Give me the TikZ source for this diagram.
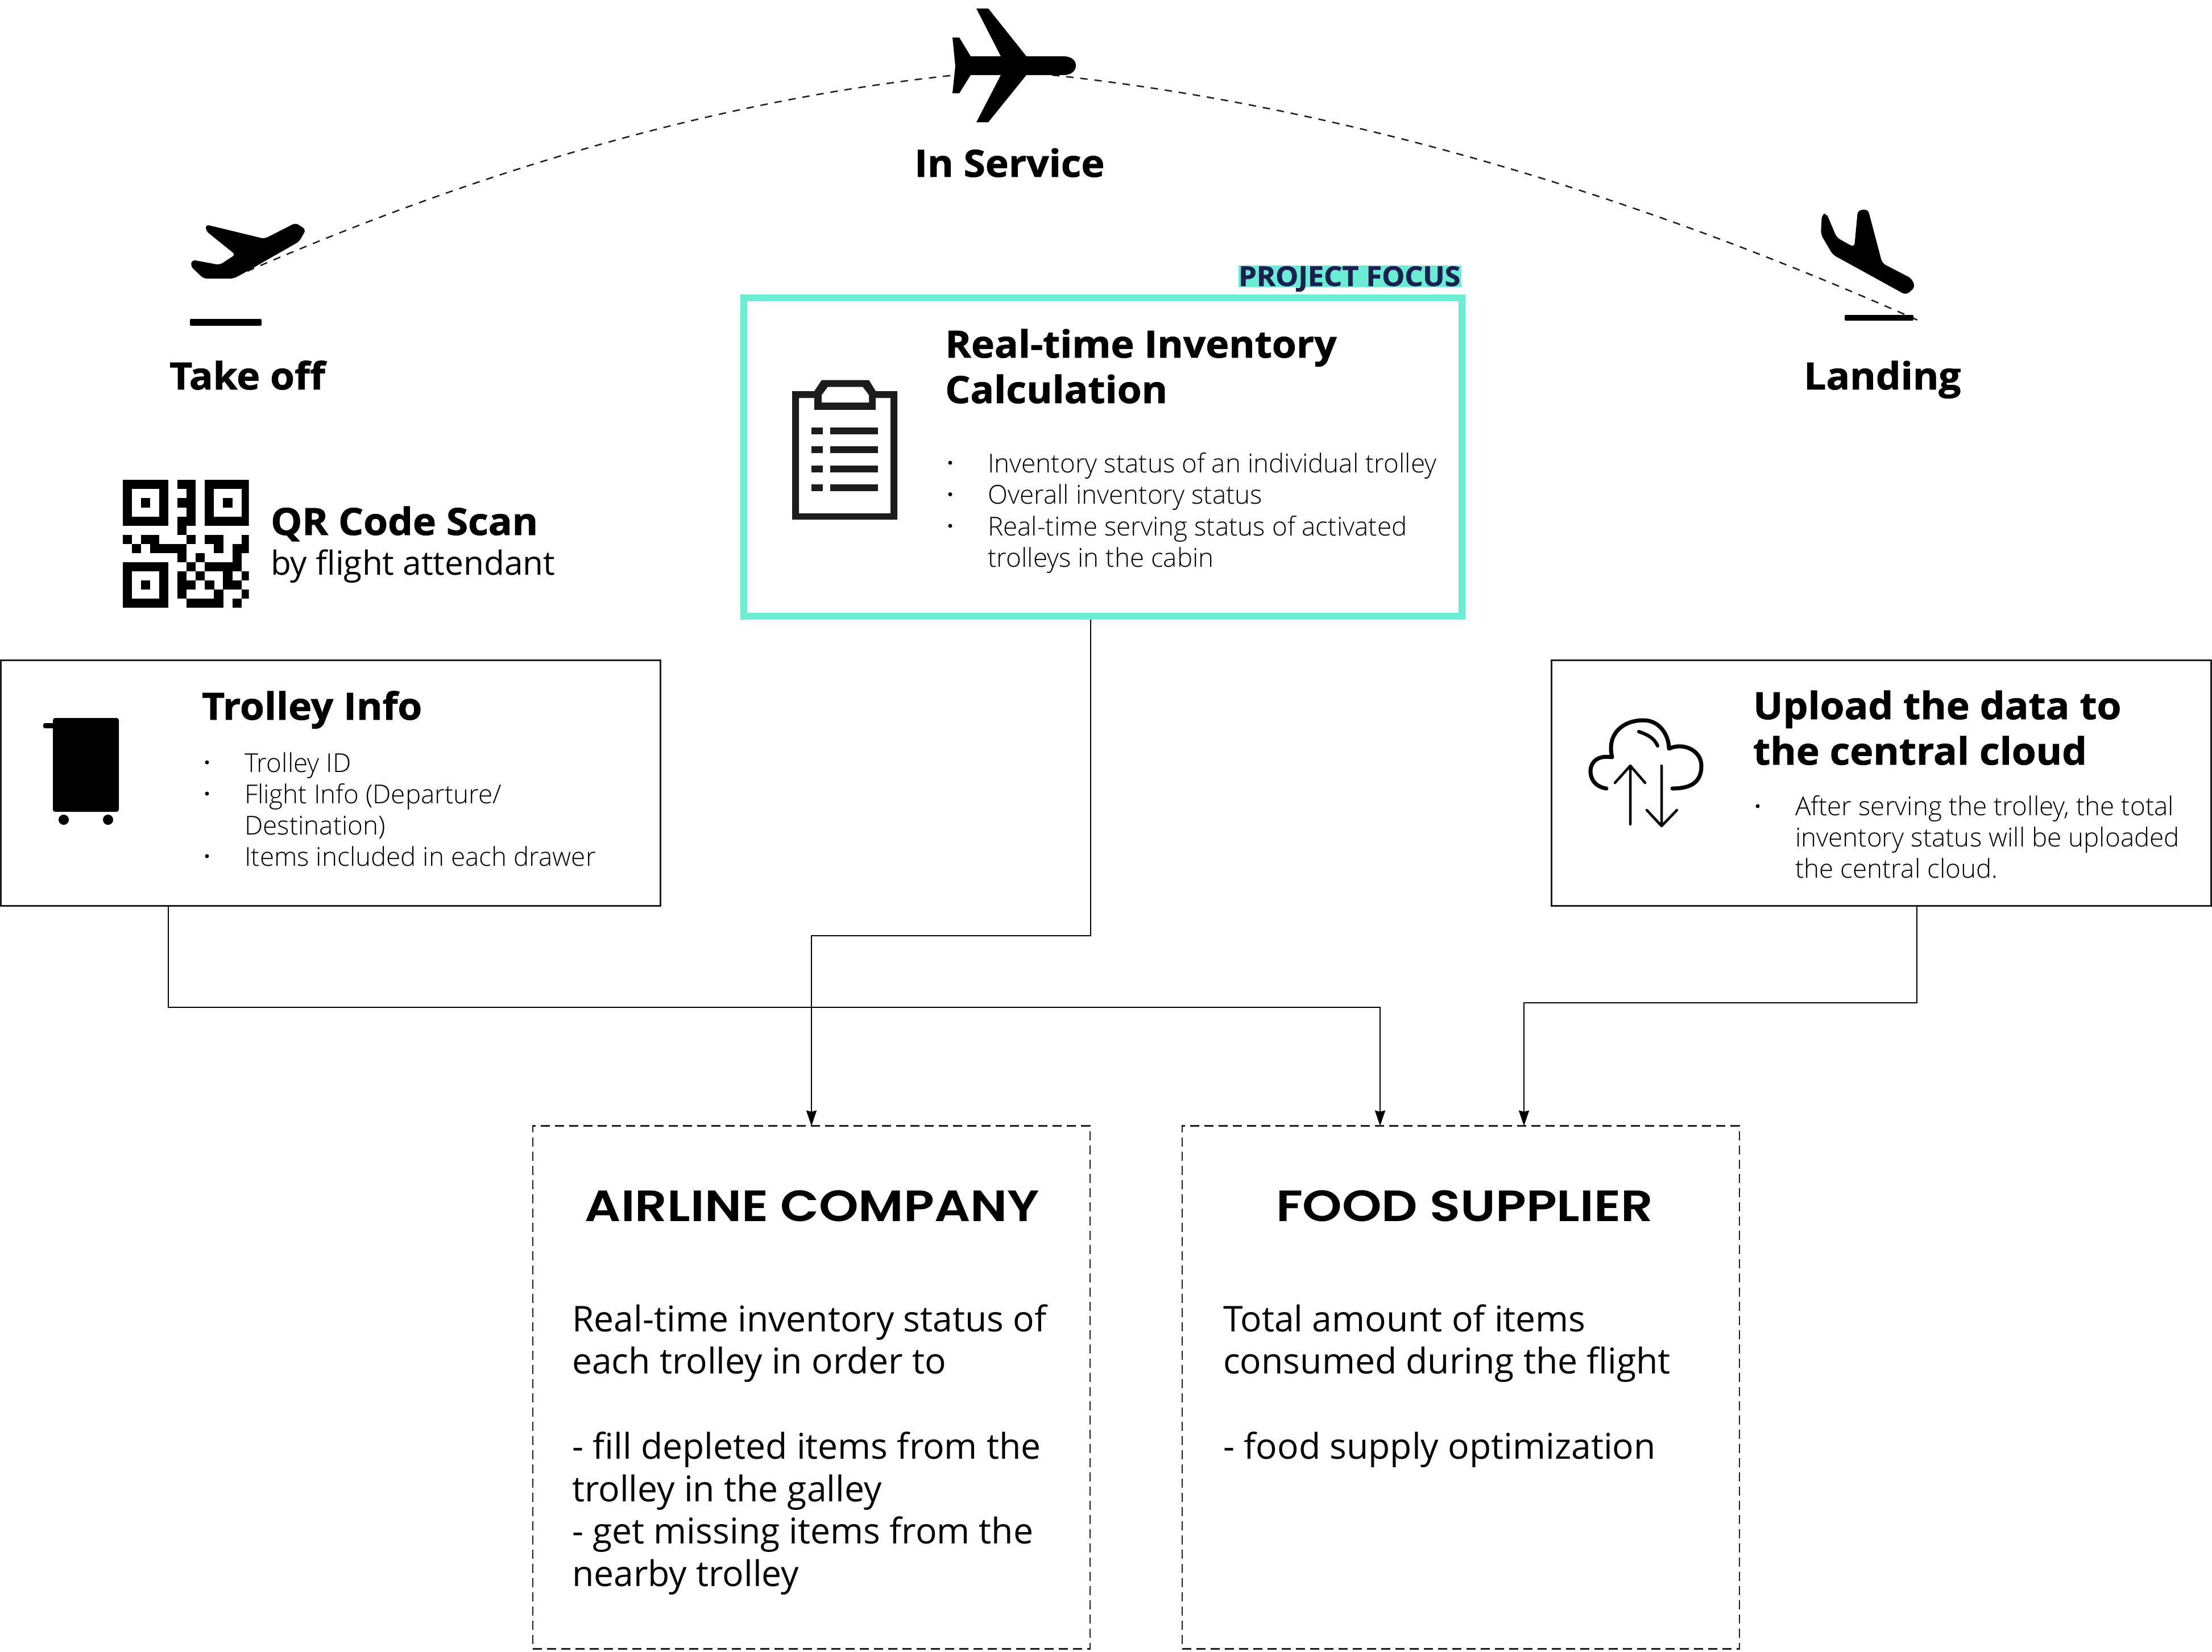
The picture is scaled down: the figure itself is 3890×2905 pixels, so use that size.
\documentclass[tikz,border=0pt]{standalone}
\usepackage{fontspec}
\usetikzlibrary{arrows.meta}
\setmainfont{Open Sans}
\newfontfamily\oslight{Open Sans Light}
\newfontfamily\osheavy{Open Sans}[FakeStretch=1.05,FakeBold=1.2]
\newfontfamily\popp{Poppins}[BoldFont={Poppins SemiBold},FakeStretch=1.15]
\definecolor{tealbar}{HTML}{6BEBD3}
\definecolor{navy}{HTML}{1A2050}
\definecolor{ink}{HTML}{1C1C1C}
\tikzset{
  px/.style={x=1pt,y=-1pt},
  headline/.style={anchor=base west,inner sep=0pt,font=\fontsize{66}{79}\selectfont\osheavy\bfseries},
  bodyline/.style={anchor=base west,inner sep=0pt,font=\fontsize{45.8}{55}\selectfont\oslight},
  bigline/.style={anchor=base west,inner sep=0pt,font=\fontsize{62.4}{75}\selectfont},
  orgtitle/.style={anchor=base,inner sep=0pt,font=\fontsize{77}{80}\selectfont\popp\bfseries},
  bulletdot/.style={circle,fill=black,inner sep=0pt,minimum size=7pt},
  infobox/.style={draw=ink,line width=3pt,rectangle,inner sep=0pt,outer sep=0pt},
  focusbox/.style={draw=tealbar,line width=12pt,rectangle,inner sep=0pt,outer sep=0pt},
  orgbox/.style={draw=ink,line width=2.5pt,dash pattern=on 16pt off 9pt,rectangle,inner sep=0pt,outer sep=0pt},
  flow/.style={draw=black,line width=2.5pt,-{Stealth[length=27pt,width=18pt,inset=2pt]}},
  pathline/.style={draw=ink,line width=2.5pt,dash pattern=on 13pt off 12pt},
}
\begin{document}
\begin{tikzpicture}[px]
\useasboundingbox (0,0) rectangle (3890,2905);
% flight path
\draw[pathline] (435,477) .. controls (850,297) and (1265,176) .. (1680,132);
\draw[pathline] (1850,132) .. controls (2357,187) and (2865,338) .. (3372,563);
% planes
\fill[black] (1717,15)--(1738,15)--(1805,99)--(1870,99) .. controls (1885,99) and (1892,107) .. (1892,115) .. controls (1892,124) and (1885,132) .. (1870,132)--(1805,132)--(1738,215)--(1717,215)--(1760,132)--(1707,132)--(1687,164)--(1675,164)--(1680,116)--(1675,66)--(1687,66)--(1707,99)--(1760,99)--cycle;
\fill[black,rounded corners=6pt] (362,395)--(465,420)--(520,392)--(538,404)--(526,425)--(435,477)--(411,490)--(358,490)--(335,468)--(338,457)--(386,466)--(414,448)--(362,406)--cycle;
\fill[black,rounded corners=2pt] (334,561) rectangle (460,573);
\fill[black,rounded corners=7pt] (3212,375)--(3230,418)--(3261,435)--(3267,370)--(3285,368)--(3310,463)--(3362,490)--(3368,505)--(3352,519)--(3223,448)--(3202,412)--(3204,377)--cycle;
\fill[black,rounded corners=2pt] (3244,554) rectangle (3365,564);
\node[headline] (takeoff) at (298,685) {Take off};
\node[headline] (inservice) at (1608,311) {In Service};
\node[headline] (landing) at (3172,685) {Landing};
% QR
\begin{scope}
\clip (215.7,844.3) rectangle (437.7,1069.5);
\foreach \fx/\fy in {0/0,9/0,0/9}{
  \fill[black] (215.7+16.07*\fx,844.3+16.07*\fy) rectangle ++(80.35,80.35);
  \fill[white] (215.7+16.07*\fx+16.07,844.3+16.07*\fy+16.07) rectangle ++(48.21,48.21);
  \fill[black] (215.7+16.07*\fx+32.14,844.3+16.07*\fy+32.14) rectangle ++(16.07,16.07);
}
\foreach \qrow/\qcols in {0/{6,7},1/{7},2/{6,7},3/{7},4/{6,7},5/{6},6/{0,2,3,7,9,10,13},7/{1,3,4,5,6,10,12,13},8/{6,8,12},9/{7,9,10,11,12},10/{6,8,11,13},11/{6,7,9,11,12},12/{6,10,13},13/{7,8,9,10,12}}{
  \foreach \qcol in \qcols {
    \fill[black] (215.7+16.07*\qcol,844.3+16.07*\qrow) rectangle ++(16.17,16.17);
  }
}
\end{scope}
\node[headline] (qr1) at (476,941) {QR Code Scan};
\node[anchor=base west,inner sep=0pt,font=\fontsize{58.5}{70}\selectfont] (qr2) at (476,1011) {by flight attendant};
% boxes
\node[infobox,minimum width=1160pt,minimum height=432pt] (trolley) at (581,1377) {};
\node[infobox,minimum width=1160pt,minimum height=432pt] (upload) at (3308,1377) {};
\node[focusbox,minimum width=1263pt,minimum height=560pt] (focus) at (1939.5,804) {};
\node[orgbox,minimum width=980pt,minimum height=920pt] (airline) at (1427,2440.5) {};
\node[orgbox,minimum width=980pt,minimum height=920pt] (food) at (2569,2440.5) {};
% project focus
\node[fill=tealbar,inner sep=0pt,minimum width=392pt,minimum height=38pt] (pfbg) at (2374,486) {};
\node[anchor=base west,inner sep=0pt,text=navy,font=\fontsize{48}{50}\selectfont\osheavy\bfseries] (pf) at (2178,503) {PROJECT FOCUS};
% clipboard
\begin{scope}[ink]
\fill[even odd rule] (1393,688) rectangle (1578,914) (1405,700) rectangle (1566,903);
\fill (1432,688) rectangle (1540,721);
\fill (1432,688)--(1445,668.5)--(1528,668.5)--(1540,688)--cycle;
\fill[white] (1445,708)--(1445,695)--(1456,680.5)--(1517,680.5)--(1528,695)--(1528,708)--cycle;
\foreach \yy in {752,785,818.6,852}{
  \fill (1427,\yy) rectangle (1447,\yy+12);
  \fill (1460,\yy) rectangle (1544,\yy+12);
}
\end{scope}
\node[headline] (rt1) at (1662,629) {Real-time Inventory};
\node[headline] (rt2) at (1662,709) {Calculation};
\foreach \yy/\lbl/\nm in {831/Inventory status of an individual trolley/a,886.5/Overall inventory status/b,942/Real-time serving status of activated/c}{
  \node[bulletdot] (rb\nm) at (1671,\yy-17) {};
  \node[bodyline] (rl\nm) at (1737,\yy) {\lbl};
}
\node[bodyline] (rld) at (1737,997) {trolleys in the cabin};
% trolley icon
\fill[black,rounded corners=4pt] (93,1263) rectangle (209,1428);
\fill[black,rounded corners=3pt] (76,1272) rectangle (100,1281);
\fill[black] (112,1442) circle (9);
\fill[black] (190,1442) circle (9);
\node[headline] (ti) at (355,1266) {Trolley Info};
\foreach \yy/\nm in {1358/a,1413/b,1523/c}{
  \node[bulletdot] (tb\nm) at (364,\yy-17) {};
}
\node[bodyline] (tla) at (430,1358) {Trolley ID};
\node[bodyline] (tlb) at (430,1413) {Flight Info (Departure/};
\node[bodyline] (tlc) at (430,1468) {Destination)};
\node[bodyline] (tld) at (430,1523) {Items included in each drawer};
% cloud icon
\draw[black,line width=7pt,line cap=round,line join=round]
  (2825,1387) .. controls (2805,1384) and (2797,1370) .. (2797,1357)
  .. controls (2797,1340) and (2810,1328) .. (2835,1332)
  .. controls (2825,1290) and (2855,1267) .. (2890,1267)
  .. controls (2920,1267) and (2935,1295) .. (2935,1317)
  .. controls (2960,1305) and (2992,1320) .. (2992,1347)
  .. controls (2992,1375) and (2975,1387) .. (2941,1387);
\draw[black,line width=6pt,line cap=round] (2882,1287) .. controls (2900,1293) and (2910,1300) .. (2915,1312);
\draw[black,line width=4.5pt,line cap=round,line join=round] (2867,1450)--(2867,1347) (2840,1377)--(2867,1347)--(2893,1377);
\draw[black,line width=4.5pt,line cap=round,line join=round] (2922,1347)--(2922,1453) (2896,1425)--(2922,1453)--(2949,1425);
\node[headline] (up1) at (3083,1265) {Upload the data to};
\node[headline] (up2) at (3083,1345) {the central cloud};
\node[bulletdot] (ub) at (3091,1418) {};
\node[bodyline] (ula) at (3157,1434.5) {After serving the trolley, the total};
\node[bodyline] (ulb) at (3157,1489.5) {inventory status will be uploaded};
\node[bodyline] (ulc) at (3157,1544.5) {the central cloud.};
% connectors
\coordinate (c1) at (1918,1090);
\coordinate (c1b) at (1918,1646);
\coordinate (c1c) at (1427,1646);
\coordinate (c2) at (296,1593);
\coordinate (c2b) at (296,1772);
\coordinate (c2c) at (2427,1772);
\coordinate (c2d) at (2427,1980.5);
\coordinate (c3) at (3371,1593);
\coordinate (c3b) at (3371,1764);
\coordinate (c3c) at (2680,1764);
\coordinate (c3d) at (2680,1980.5);
\draw[flow] (c1) -- (c1b) -- (c1c) -- (airline.north);
\draw[flow] (c2) -- (c2b) -- (c2c) -- (c2d);
\draw[flow] (c3) -- (c3b) -- (c3c) -- (c3d);
% org text
\node[orgtitle] (at) at (1428.5,2148) {AIRLINE COMPANY};
\node[orgtitle] (ft) at (2575.5,2148) {FOOD SUPPLIER};
\foreach \yy/\lbl/\nm in {2342.5/Real-time inventory status of/a,2416.5/each trolley in order to/b,2566.5/- fill depleted items from the/c,2641/trolley in the galley/d,2715.5/- get missing items from the/e,2790/nearby trolley/f}{
  \node[bigline] (al\nm) at (1006,\yy) {\lbl};
}
\foreach \yy/\lbl/\nm in {2342.5/Total amount of items/a,2416.5/consumed during the flight/b,2566.5/- food supply optimization/c}{
  \node[bigline] (fl\nm) at (2151,\yy) {\lbl};
}
\end{tikzpicture}
\end{document}
